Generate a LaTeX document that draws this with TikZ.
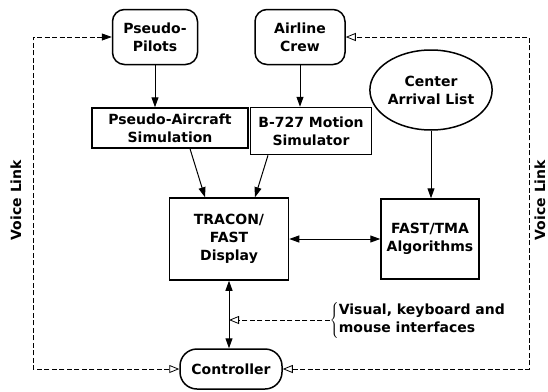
\documentclass[tikz,border=0pt]{standalone}
\usepackage{fontspec}
\setmainfont{DejaVu Sans}
\usepackage{tikz}
\usetikzlibrary{shapes,arrows.meta,positioning,calc}

\begin{document}
\begin{tikzpicture}[x=1pt, y=-1pt,
  every node/.style={font=\bfseries\fontsize{14}{18}\selectfont},
  box/.style={draw, rectangle, line width=1.5pt, align=center},
  rbox/.style={box, rounded corners=12pt},
  tip/.tip={Triangle[length=10pt,width=7pt]},
  otip/.tip={Triangle[open,length=10pt,width=8pt]},
  link/.style={line width=1pt, -tip},
  both/.style={line width=1pt, tip-tip},
  voice/.style={dash pattern=on 5pt off 2.5pt, line width=0.8pt}]
\useasboundingbox (0,0) rectangle (548,391);
\node[rbox, minimum width=85pt, minimum height=55pt] (pp) at (155,37) {Pseudo-\\Pilots};
\node[rbox, right of=pp, node distance=145pt, minimum width=90pt, minimum height=55pt] (ac) {Airline\\Crew};
\node[box, minimum width=156pt, minimum height=40pt] (pa) at (170,128) {Pseudo-Aircraft\\Simulation};
\node[box, minimum width=121pt, minimum height=47pt] (b7) at (311,131) {B-727 Motion\\Simulator};
\node[draw, ellipse, line width=1.5pt, align=center, inner sep=0pt, minimum width=120pt, minimum height=80pt] (cal) at (431,90) {Center\\Arrival List};
\node[box, minimum width=119pt, minimum height=82pt] (td) at (229,239) {TRACON/\\FAST\\Display};
\node[box, right of=td, node distance=201pt, minimum width=98pt, minimum height=80pt] (fm) {FAST/TMA\\Algorithms};
\node[rbox, rounded corners=17pt, minimum width=102pt, minimum height=40pt] (ctl) at (231,369) {Controller};
\node[inner sep=0pt] (ifc) at (418,320) {$\left\{\begin{tabular}{@{}l@{}}Visual, keyboard and\\mouse interfaces\end{tabular}\right.$};
\node[rotate=90] (vll) at (16,200) {Voice Link};
\node[rotate=90] (vlr) at (540,200) {Voice Link};
\coordinate (vl) at (33,37);
\coordinate (vr) at (529,37);

\draw[link] (pp) -- (pp |- pa.north);
\draw[link] (ac) -- (ac |- b7.north);
\draw[link] ([xshift=20pt]pa.south) -- ([xshift=-24pt]td.north);
\draw[link] ([xshift=-43pt]b7.south) -- ([xshift=26pt]td.north);
\draw[link] (cal) -- (cal |- fm.north);
\draw[both] (td) -- (fm);
\draw[both] (td.south) -- (td.south |- ctl.north);
\draw[voice, -otip] (ifc.west) -- (ifc.west -| td.south);
% voice link loops
\draw[voice, otip-tip] (ctl.west) -| (vl) -- (pp.west);
\draw[voice, otip-otip] (ctl.east) -| (vr) -- (ac.east);
\end{tikzpicture}
\end{document}
